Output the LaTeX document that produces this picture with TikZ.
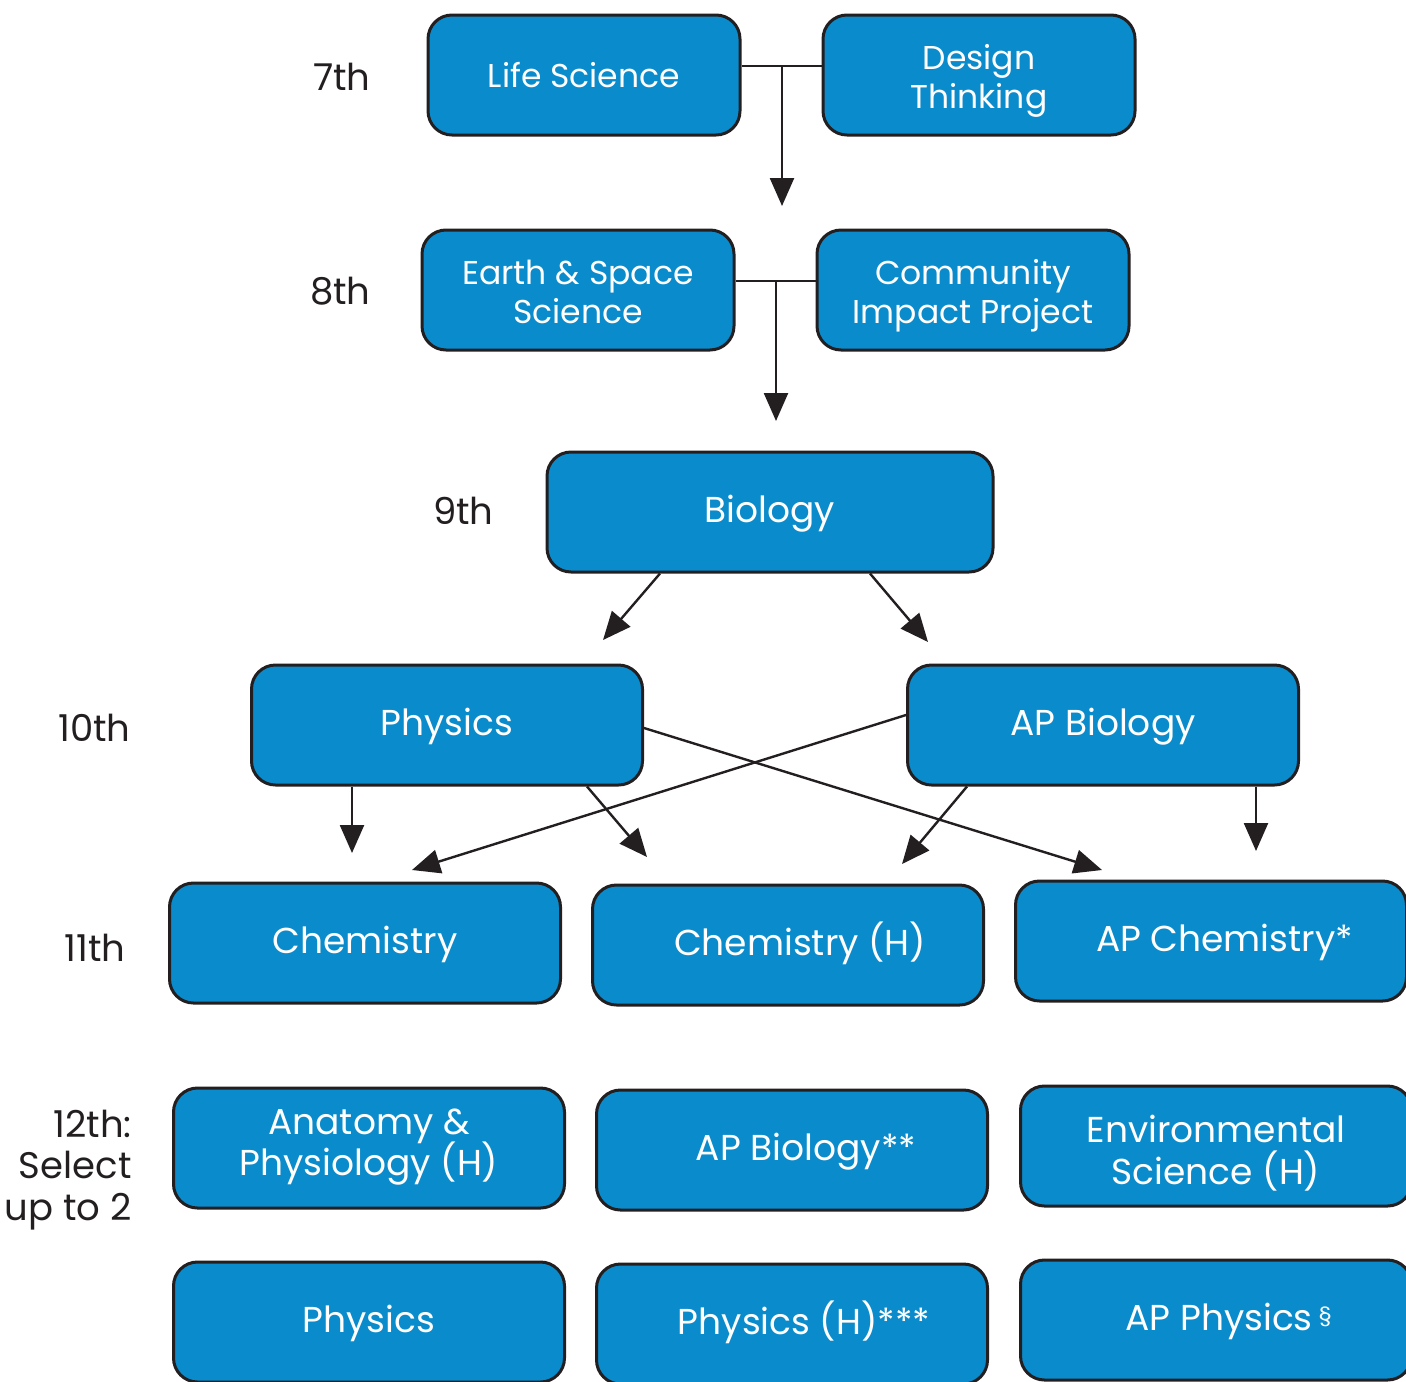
\documentclass[tikz,border=0pt]{standalone}
\usepackage{fontspec}
\setmainfont{Poppins}
\usetikzlibrary{arrows.meta}
\definecolor{boxblue}{HTML}{0A8BCB}
\definecolor{ink}{HTML}{231F20}
\newcommand\tightlines{\lineskiplimit=-20pt\relax}
\begin{document}
\begin{tikzpicture}[x=0.5pt,y=-0.5pt,
  course/.style={draw=ink, line width=1.5pt, fill=boxblue, rounded corners=12pt,
    text=white, align=center, inner sep=0pt, minimum height=60pt, minimum width=195.5pt,
    text height=10pt, text depth=0pt, font=\fontsize{18}{20.5}\selectfont\tightlines},
  small/.style={course, minimum width=156pt, text height=33.5pt,
    font=\fontsize{16.5}{19.5}\selectfont\tightlines},
  grade/.style={text=ink, align=right, anchor=east, inner sep=0pt, font=\fontsize{18.5}{20.75}\selectfont},
  link/.style={draw=ink, line width=1.2pt},
  arr/.style={link, -{Triangle[length=14pt,width=12pt]}}]
\useasboundingbox (0,0) rectangle (1406,1381);
\clip (0,0) rectangle (1406,1381);
% grade labels
\node[grade] (g7)  at (371,77)   {7th};
\node[grade] (g8)  at (371,291)  {8th};
\node[grade] (g9)  at (494,511)  {9th};
\node[grade] (g10) at (131,728)  {10th};
\node[grade] (g11) at (126,948)  {11th};
\node[grade] (g12) at (132,1170) {12th:\\Select\\up to 2};
% 7th and 8th
\node[small, text height=12.5pt] (life) at (584,75) {Life Science};
\node[small] (design) at (979,75)  {Design\\Thinking};
\node[small] (earth)  at (578,290) {Earth \& Space\\Science};
\node[small] (impact) at (973,290) {Community\\Impact Project};
% 9th
\node[course, minimum width=223pt] (bio) at (770,512) {Biology};
% 10th
\node[course] (phys)  at (447,725)  {Physics};
\node[course] (apbio) at (1103,725) {AP Biology};
% 11th
\node[course] (chem)   at (365,943)  {Chemistry};
\node[course] (chemh)  at (788,945)  {\hspace*{12pt}Chemistry (H)};
\node[course] (apchem) at (1211,941) {\hspace*{13.5pt}AP Chemistry*};
% 12th
\node[course, text height=27.6pt] (anat) at (369,1148) {Anatomy \&\\Physiology (H)};
\node[course] (apbio2) at (792,1150) {\hspace*{14pt}AP Biology**};
\node[course, text height=38.6pt, font=\fontsize{18}{21}\selectfont\tightlines] (env) at (1216,1146) {Environmental\\Science (H)};
\node[course] (phys2) at (369,1322)  {Physics};
\node[course] (physh) at (792,1324)  {\hspace*{12pt}Physics (H)***};
\node[course] (apphys) at (1216,1320) {\hspace*{12.5pt}AP Physics\,\raisebox{0.22em}{\fontsize{11}{11}\selectfont\S}};
% arrow ends
\coordinate (j7) at (782,66);
\coordinate (a7) at (782,206);
\coordinate (j8) at (776,281);
\coordinate (a8) at (776,421);
\coordinate (t1) at (603,640);
\coordinate (t2) at (928,642);
\coordinate (p1) at (352,853);
\coordinate (p2) at (647,857);
\coordinate (p3) at (1102,870);
\coordinate (b1) at (412,870);
\coordinate (b2) at (902,864);
\coordinate (b3) at (1256,851);
% connectors
\draw[link] (life.east |- j7) -- (design.west |- j7);
\draw[arr] (j7) -- (a7);
\draw[link] (earth.east |- j8) -- (impact.west |- j8);
\draw[arr] (j8) -- (a8);
\draw[arr] (660,0 |- bio.south) -- (t1);
\draw[arr] (870,0 |- bio.south) -- (t2);
\draw[arr] (352,0 |- phys.south) -- (p1);
\draw[arr] (587,0 |- phys.south) -- (p2);
\draw[arr] (phys.east |- 0,728) -- (p3);
\draw[arr] (apbio.west |- 0,715) -- (b1);
\draw[arr] (967,0 |- apbio.south) -- (b2);
\draw[arr] (1256,0 |- apbio.south) -- (b3);
\end{tikzpicture}
\end{document}
